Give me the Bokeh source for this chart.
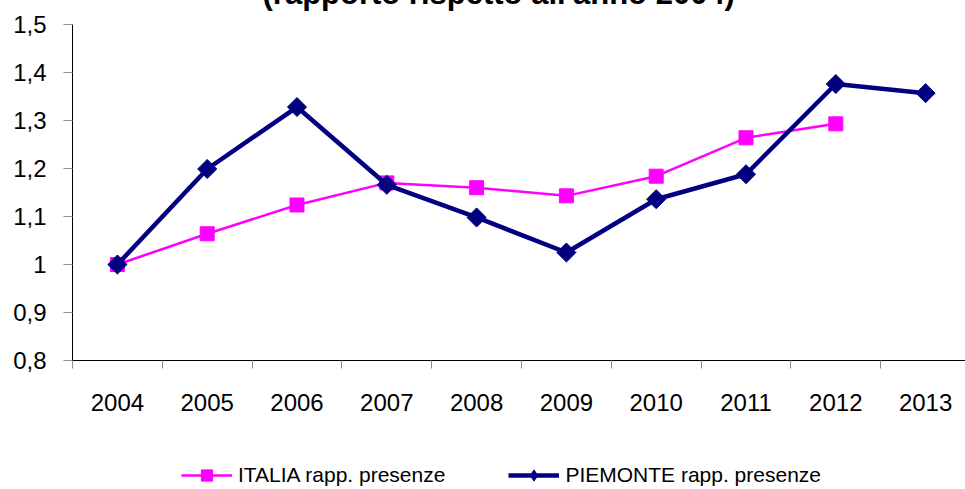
from bokeh.plotting import figure
from bokeh.layouts import column
from bokeh.models import (ColumnDataSource, FixedTicker, CustomJSTickFormatter, Legend,
                          LegendItem, Title, Range1d)
from bokeh.embed import file_html
from bokeh.resources import INLINE
import math

# ---- data ----
years = [2004, 2005, 2006, 2007, 2008, 2009, 2010, 2011, 2012, 2013]
italia_years = [2004, 2005, 2006, 2007, 2008, 2009, 2010, 2011, 2012]
italia = [1.000, 1.064, 1.124, 1.170, 1.160, 1.143, 1.184, 1.264, 1.293]
piemonte = [1.000, 1.199, 1.328, 1.166, 1.098, 1.025, 1.136, 1.188, 1.376, 1.357]
y_ticks = [0.8, 0.9, 1.0, 1.1, 1.2, 1.3, 1.4, 1.5]
title_text = "(rapporto rispetto all'anno 2004)"
label_italia = "ITALIA rapp. presenze"
label_piemonte = "PIEMONTE rapp. presenze"

src_it = ColumnDataSource(dict(x=italia_years, y=italia))
src_pi = ColumnDataSource(dict(x=years, y=piemonte))

FONT = "Liberation Sans"
SHIFT = 40          # the page is shifted up so that the title is mostly cut off
LEG_H = 40          # height of the legend strip at the bottom
MAG, NAVY = "#FF00FF", "#000080"

p = figure(width=957, height=489 + SHIFT - LEG_H, output_backend="svg",
           toolbar_location=None,
           x_range=Range1d(2003.5, 2003.5 + 893 / 89.8), y_range=Range1d(0.8, 1.5),
           min_border_left=64, min_border_right=0, min_border_top=24 + SHIFT,
           min_border_bottom=89)
p.outline_line_color = None
p.xgrid.visible = False
p.ygrid.visible = False

# y axis
p.yaxis.ticker = FixedTicker(ticks=y_ticks, minor_ticks=[])
p.yaxis.formatter = CustomJSTickFormatter(code="""
    var s = tick.toFixed(1).replace('.', ',');
    if (s.endsWith(',0')) { s = s.slice(0, -2); }
    return s;
""")
p.yaxis.axis_line_color = "black"
p.yaxis.major_tick_line_color = "#8c8c8c"
p.yaxis.major_tick_out = 9
p.yaxis.major_tick_in = 0
p.yaxis.minor_tick_line_color = None
p.yaxis.major_label_standoff = 17
p.yaxis.major_label_text_font = FONT
p.yaxis.major_label_text_font_size = "24px"
p.yaxis.major_label_text_color = "black"

# x axis
p.xaxis.ticker = FixedTicker(ticks=years, minor_ticks=[y - 0.5 for y in years])
p.xaxis.axis_line_color = "black"
p.xaxis.major_tick_line_color = None
p.xaxis.major_tick_out = 0
p.xaxis.major_tick_in = 0
p.xaxis.minor_tick_line_color = "#8c8c8c"
p.xaxis.minor_tick_out = 8
p.xaxis.minor_tick_in = 0
p.xaxis.major_label_standoff = 25
p.xaxis.major_label_text_font = FONT
p.xaxis.major_label_text_font_size = "24px"
p.xaxis.major_label_text_color = "black"

# series
p.line("x", "y", source=src_it, line_color=MAG, line_width=2.5)
p.scatter("x", "y", source=src_it, marker="square", size=14, fill_color=MAG, line_color=MAG)
p.line("x", "y", source=src_pi, line_color=NAVY, line_width=4.5)
p.scatter("x", "y", source=src_pi, marker="square", size=13.5, angle=math.pi / 4,
          fill_color=NAVY, line_color=NAVY)

title = Title(text=title_text, align="left", offset=190, standoff=27,
              text_font=FONT, text_font_size="31px", text_font_style="bold",
              text_color="black")
p.add_layout(title, "above")

# legend strip (its own small figure; the series are out of its view, only the legend shows)
q = figure(width=957, height=LEG_H, output_backend="svg", toolbar_location=None,
           x_axis_type=None, y_axis_type=None, title_location=None,
           x_range=Range1d(0, 1), y_range=Range1d(0, 1),
           min_border_left=0, min_border_right=0, min_border_top=0, min_border_bottom=0)
q.outline_line_color = None
q.xgrid.visible = False
q.ygrid.visible = False
ql_it = q.line("x", "y", source=src_it, line_color=MAG, line_width=2.5)
qs_it = q.scatter("x", "y", source=src_it, marker="square", size=14,
                  fill_color=MAG, line_color=MAG)
ql_pi = q.line("x", "y", source=src_pi, line_color=NAVY, line_width=4.5)
qs_pi = q.scatter("x", "y", source=src_pi, marker="diamond", size=13,
                  fill_color=NAVY, line_color=NAVY)
leg = Legend(items=[LegendItem(label=label_italia, renderers=[ql_it, qs_it]),
                    LegendItem(label=label_piemonte, renderers=[ql_pi, qs_pi])],
             location=(109, 0), orientation="horizontal", glyph_width=51, glyph_height=28,
             label_standoff=6, padding=0, margin=0, spacing=63, border_line_color=None,
             background_fill_alpha=0, label_text_font=FONT, label_text_font_size="21px",
             label_text_color="black")
q.add_layout(leg)

layout = column(p, q, spacing=0)
layout.styles = {"position": "absolute", "top": "-%dpx" % SHIFT, "left": "8px"}

open("out.html", "w").write(file_html(layout, INLINE))
